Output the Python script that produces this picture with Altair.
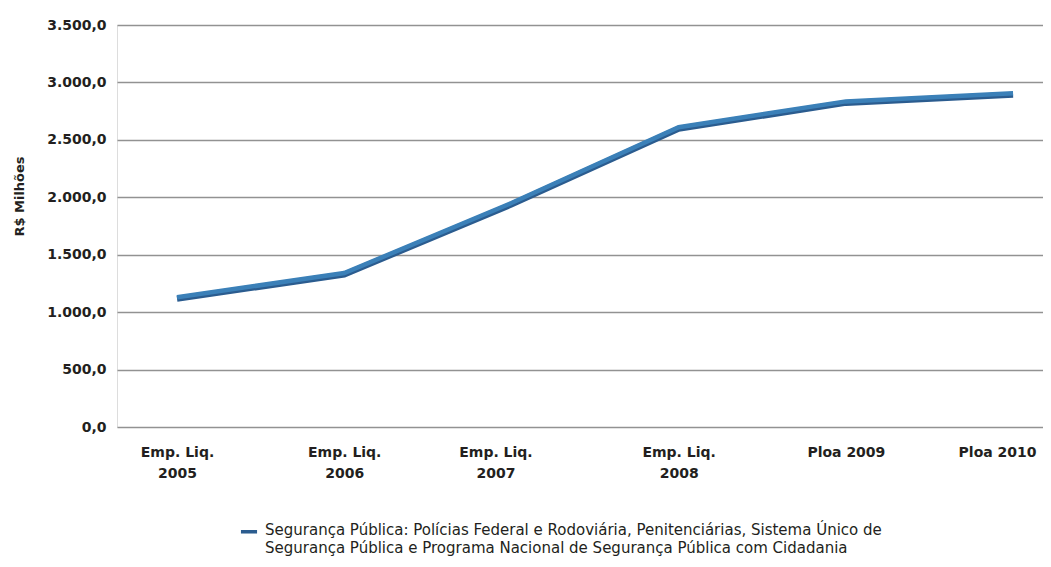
import altair as alt
import pandas as pd

categories = ["Emp. Liq.|2005", "Emp. Liq.|2006", "Emp. Liq.|2007",
              "Emp. Liq.|2008", "Ploa 2009", "Ploa 2010"]
values = [1130.0, 1340.0, 1950.0, 2610.0, 2835.0, 2905.0]
series_name = ("Segurança Pública: Polícias Federal e Rodoviária, Penitenciárias, Sistema Único de|"
               "Segurança Pública e Programa Nacional de Segurança Pública com Cidadania")
y_ticks = [0, 500, 1000, 1500, 2000, 2500, 3000, 3500]

df = pd.DataFrame({
    "idx": list(range(len(categories))),
    "cat": categories,
    "valor": values,
    "serie": [series_name] * len(values),
})

FONT = "DejaVu Sans"
TXT = "#231f20"

cat_array = "[" + ", ".join("'" + c + "'" for c in categories) + "]"

x_enc = alt.X(
    "idx:Q", title=None,
    scale=alt.Scale(domain=[-0.359, 5.179], nice=False, zero=False),
    axis=alt.Axis(values=list(range(len(categories))),
                  labelExpr="split(" + cat_array + "[datum.value], '|')",
                  labelAngle=0, labelFont=FONT,
                  labelFontSize=14, labelFontWeight="bold", labelColor=TXT,
                  labelLineHeight=21, labelPadding=18, ticks=False, domain=False,
                  grid=False, labelAlign="center", labelOverlap=False, labelFlush=False,
                  labelOffset={"condition": {"test": "datum.value == 2 || datum.value == 5",
                                             "value": -16}, "value": 0}),
)
y_enc = alt.Y(
    "valor:Q", title="R$ Milhões",
    scale=alt.Scale(domain=[0, 3500], nice=False, zero=True),
    axis=alt.Axis(values=y_ticks,
                  labelExpr="replace(replace(replace(format(datum.value, ',.1f'), ',', '#'), '.', ','), '#', '.')",
                  labelFont=FONT, labelFontSize=14, labelFontWeight="bold", labelColor=TXT,
                  labelPadding=11, ticks=False, domain=False,
                  grid=True, gridColor="#929292", gridWidth=1.5,
                  titleFont=FONT, titleFontSize=13, titleFontWeight="bold", titleColor=TXT,
                  titleX=-98, titleY=171, titleAngle=270, titleAlign="center",
                  titleBaseline="middle"),
)

base = alt.Chart(df)

shadow = base.mark_line(strokeWidth=6, yOffset=1.5).encode(
    x=x_enc, y=y_enc,
    color=alt.Color("serie:N", scale=alt.Scale(domain=[series_name], range=["#2b5c8f"]),
                    legend=alt.Legend(title=None, orient="none", legendX=122, legendY=500,
                                      symbolType="M-1,-0.4H1", symbolSize=260,
                                      symbolStrokeWidth=3.5,
                                      labelExpr="split(datum.label, '|')", labelFont=FONT,
                                      labelFontSize=15, labelColor=TXT, labelLimit=900,
                                      labelBaseline="alphabetic",
                                      labelOffset=6)),
)
top = base.mark_line(strokeWidth=4.5, color="#3b80b8").encode(x=x_enc, y=y_enc)

chart = alt.layer(shadow, top).properties(
    width=926, height=402,
    autosize=alt.AutoSizeParams(type="none"),
    padding={"left": 109, "top": 17, "right": 0, "bottom": 132},
).configure_view(stroke=None).configure(
    background="white",
    style={"guide-label": {"lineHeight": 18}},
)

chart.save("out.html", embed_options={"renderer": "svg", "actions": False})
